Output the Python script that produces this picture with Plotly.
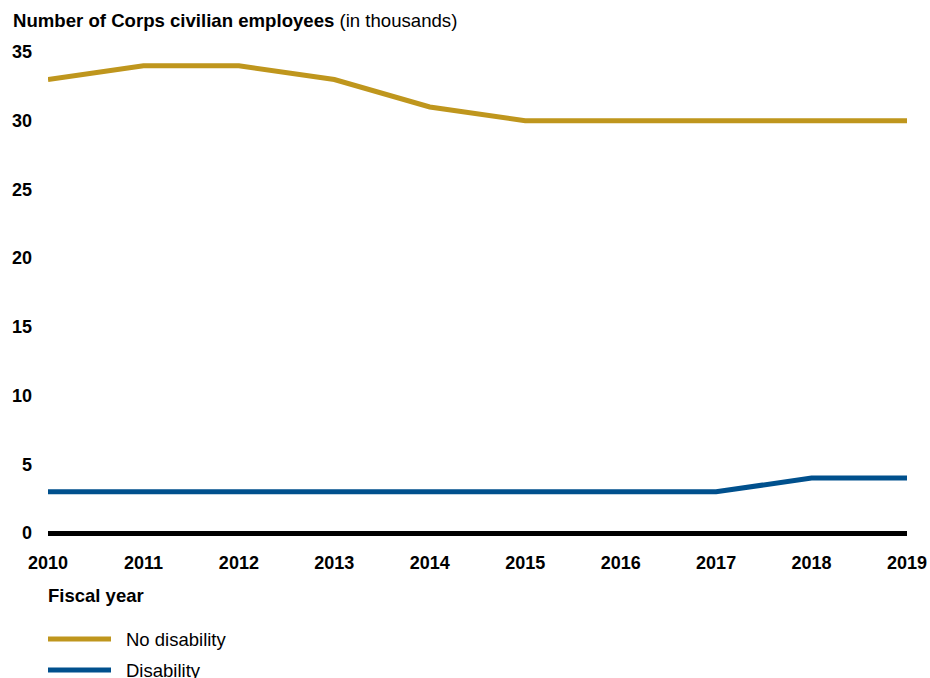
import plotly.graph_objects as go

years = [2010, 2011, 2012, 2013, 2014, 2015, 2016, 2017, 2018, 2019]
no_disability = [33, 34, 34, 33, 31, 30, 30, 30, 30, 30]
disability = [3, 3, 3, 3, 3, 3, 3, 3, 4, 4]
series_names = ["No disability", "Disability"]
series_colors = ["#BF961D", "#00508D"]
y_ticks = [0, 5, 10, 15, 20, 25, 30, 35]

FONT = "Liberation Sans, Arial, sans-serif"
W, H = 930, 678
ML, MR, MT, MB = 48, 23, 52, 145
PW = W - ML - MR
PH = H - MT - MB

fig = go.Figure()
for name, vals, col in zip(series_names, [no_disability, disability], series_colors):
    fig.add_trace(go.Scatter(x=years, y=vals, mode="lines", name=name,
                             line=dict(color=col, width=5), showlegend=False,
                             cliponaxis=False))

def px_x(p):
    return (p - ML) / PW

def px_y(p):
    return (H - MB - p) / PH

annotations = [
    dict(text="<b>Number of Corps civilian employees</b> (in thousands)",
         x=px_x(11), y=px_y(21), xref="paper", yref="paper",
         xanchor="left", yanchor="middle", showarrow=False,
         font=dict(size=18.6, color="#000", family=FONT)),
    dict(text="<b>Fiscal year</b>", x=px_x(46), y=px_y(595), xref="paper", yref="paper",
         xanchor="left", yanchor="middle", showarrow=False,
         font=dict(size=18.5, color="#000", family=FONT)),
]
shapes = []
for i, (name, col) in enumerate(zip(series_names, series_colors)):
    yc = 639 + i * 31
    shapes.append(dict(type="line", xref="paper", yref="paper",
                       x0=px_x(48), x1=px_x(111), y0=px_y(yc), y1=px_y(yc),
                       line=dict(color=col, width=5)))
    annotations.append(dict(text=name, x=px_x(124), y=px_y(yc), xref="paper", yref="paper",
                            xanchor="left", yanchor="middle", showarrow=False,
                            font=dict(size=18.5, color="#000", family=FONT)))

fig.update_layout(
    width=W, height=H,
    margin=dict(l=ML, r=MR, t=MT, b=MB, autoexpand=False),
    paper_bgcolor="white", plot_bgcolor="white",
    font=dict(family=FONT, color="#000"),
    xaxis=dict(range=[2010, 2019], tickvals=years, ticktext=[f"<b>{y}</b>" for y in years],
               showgrid=False, zeroline=False, showline=False, ticks="", automargin=False,
               tickfont=dict(size=18, family=FONT), ticklabelstandoff=17),
    yaxis=dict(range=[0, 35], tickvals=y_ticks, ticktext=[f"<b>{v}</b>" for v in y_ticks],
               showgrid=False, zeroline=True, zerolinecolor="#000", zerolinewidth=5,
               showline=False, ticks="", automargin=False, tickfont=dict(size=18, family=FONT),
               ticklabelstandoff=15),
    annotations=annotations,
    shapes=shapes,
)
fig.write_html("out.html")
